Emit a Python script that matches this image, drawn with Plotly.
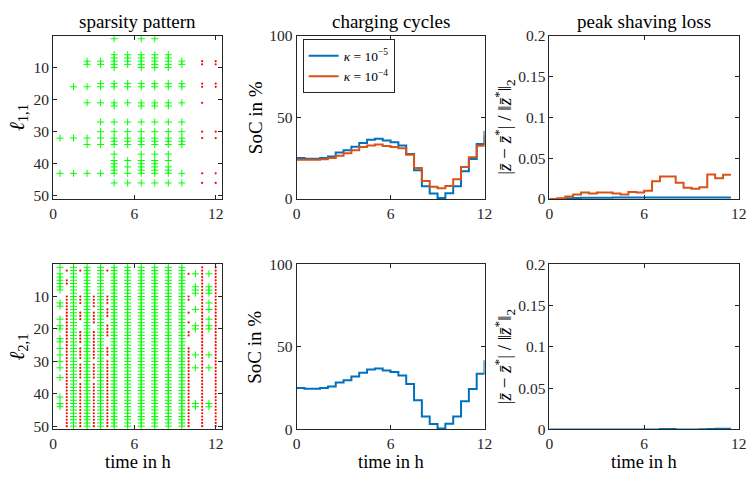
import plotly.graph_objects as go

# ---------------- data ----------------
# sparsity pattern l_{1,1}: time column (h) -> rows holding entries ([a, b] = dense run a..b)
sp1_green_t = [0.5, 1.5, 2.5, 3.5, 4.5, 5.5, 6.5, 7.5, 8.5, 9.5]
sp1_green_rows = [
    [32, 43],
    [16, 32, 43],
    [8, 9, 16, 21, 32, 34, 43],
    [8, 9, 15, 16, 21, 27, 30, 32, 34, 43],
    [1, [6, 10], 15, 16, 21, 22, 27, 30, [32, 34], 37, [39, 43], 46],
    [[6, 9], 15, 16, 21, 27, 30, [32, 34], 39, 41, 43, 46],
    [1, [6, 10], 15, 16, 21, 22, 27, 30, [32, 34], 37, [39, 43], 46],
    [1, [6, 10], 15, 16, 21, 22, 27, 30, [32, 34], 37, [39, 43], 46],
    [[6, 10], 15, 16, 21, 22, 27, 30, [32, 34], 37, 39, [41, 43], 46],
    [8, 9, 15, 16, 21, 27, 30, [32, 34], 43, 46],
]
sp1_red_t = [11, 12]
sp1_red_rows = [
    [8, 9, 15, 16, 21, 30, 32, 43, 46],
    [8, 9, 15, 16, 30, 32, 43, 46],
]

# sparsity pattern l_{2,1}
sp2_green_t = [0.5, 1.5, 2.5, 3.5, 4.5, 5.5, 6.5, 7.5, 8.5, 9.5, 10.5, 11.5]
sp2_green_rows = [
    [1, [3, 8], 12, 13, 17, 19, 20, 23, 24, 26, 28, 30, 32, 35, 41, 43, 44],
    [[1, 50]], [[1, 50]], [[1, 50]], [[1, 50]], [[1, 50]],
    [[1, 50]], [[1, 50]], [[1, 50]], [[1, 50]],
    [3, [7, 9], 14, 19, 20, 28, 32, 43, 44],
    [3, [7, 9], 12, 14, 17, 19, 20, 28, 32, 43, 44],
]
sp2_red_t = [1, 2, 3, 4, 10, 11, 12]
sp2_red_rows = [
    [2, 5, 6, [10, 50]],
    [2, [10, 12], [15, 17], [21, 24], [26, 29], [31, 35], [37, 50]],
    [[10, 13], [15, 18], [21, 29], [31, 35], [37, 50]],
    [2, [10, 12], [14, 16], [19, 22], [26, 28], [30, 50]],
    [3, 10, 11, 15, 18, 21, 22, [26, 50]],
    [[1, 50]],
    [[1, 50]],
]

# charging cycles (SoC in %)
soc_t = [0, 0.5, 1, 1.5, 2, 2.5, 3, 3.5, 4, 4.5, 5, 5.5, 6, 6.5, 7, 7.5, 8,
         8.5, 9, 9.5, 10, 10.5, 11, 11.5, 12]
soc_k5 = [25, 24.6, 24.6, 25, 26, 28.4, 29.8, 32, 34.3, 36.3, 36.9, 35.7, 34.7,
          32.7, 27.5, 17.6, 7.8, 3.3, 0.6, 3.5, 7.8, 17, 24.5, 33.7, 41.8]
soc_k4 = [24, 24, 24, 24.3, 25, 26.5, 28, 29.8, 31.8, 32.7, 33.3, 32.4, 31.8,
          31, 27, 19, 11, 7.5, 6.5, 8, 12, 19.5, 25.5, 32.5, 39]

# peak shaving loss
loss_t = [0, 0.5, 1, 1.5, 2, 2.5, 3, 3.5, 4, 4.5, 5, 5.5, 6, 6.5, 7, 7.5, 8,
          8.5, 9, 9.5, 10, 10.5, 11, 11.5]
loss1_k5 = [0, 0.0003, 0.0008, 0.0012, 0.0015, 0.0016, 0.0016, 0.0016, 0.0017,
            0.0017, 0.0017, 0.0017, 0.0018, 0.0018, 0.0018, 0.0018, 0.0018,
            0.0018, 0.0019, 0.0019, 0.0019, 0.0019, 0.0019, 0.0019]
loss1_k4 = [0, 0.0008, 0.003, 0.0055, 0.008, 0.0067, 0.008, 0.008, 0.0067,
            0.0055, 0.0086, 0.008, 0.010, 0.0216, 0.0275, 0.0275, 0.020,
            0.0138, 0.0126, 0.0145, 0.030, 0.0255, 0.0295, 0.0295]
loss2_k5 = [0, 0, 0, 0, 0, 0, 0, 0, 0, 0, 0, 0, 0, 0, 0.0005, 0.0005, 0.0001,
            0.0001, 0.0001, 0.0002, 0.0007, 0.0008, 0.0008, 0.0008]

# ---------------- styling ----------------
BLUE = "#0072BD"
ORANGE = "#D95319"
GREEN = "#00FF00"
RED = "#FF0000"
AX = "#262626"
FONT = "Liberation Serif, Times New Roman, serif"
W, H = 754, 477
TICK_SIZE = 15.5
LABEL_SIZE = 19


def expand(t_list, rows_list):
    xs, ys = [], []
    for t, rows in zip(t_list, rows_list):
        for r in rows:
            if isinstance(r, list):
                rr = range(r[0], r[1] + 1)
            else:
                rr = [r]
            for v in rr:
                xs.append(t)
                ys.append(v)
    return xs, ys


fig = go.Figure()


def spy(t_g, r_g, t_r, r_r, xa, ya):
    xg, yg = expand(t_g, r_g)
    xr, yr = expand(t_r, r_r)
    fig.add_trace(go.Scatter(x=xr, y=yr, mode="markers", xaxis=xa, yaxis=ya,
                             marker=dict(symbol="circle", size=2.2, color=RED,
                                         line=dict(width=0)),
                             showlegend=False, hoverinfo="skip"))
    fig.add_trace(go.Scatter(x=xg, y=yg, mode="markers", xaxis=xa, yaxis=ya,
                             marker=dict(symbol="cross-thin", size=5,
                                         line=dict(width=1, color=GREEN)),
                             showlegend=False, hoverinfo="skip"))


spy(sp1_green_t, sp1_green_rows, sp1_red_t, sp1_red_rows, "x", "y")
spy(sp2_green_t, sp2_green_rows, sp2_red_t, sp2_red_rows, "x4", "y4")

k5 = "<i>κ</i> = 10<sup>−5</sup>"
k4 = "<i>κ</i> = 10<sup>−4</sup>"
fig.add_trace(go.Scatter(x=soc_t, y=soc_k5, mode="lines", line_shape="hv",
                         line=dict(color=BLUE, width=2), name=k5,
                         xaxis="x2", yaxis="y2"))
fig.add_trace(go.Scatter(x=soc_t, y=soc_k4, mode="lines", line_shape="hv",
                         line=dict(color=ORANGE, width=2), name=k4,
                         xaxis="x2", yaxis="y2"))
fig.add_trace(go.Scatter(x=soc_t, y=soc_k5, mode="lines", line_shape="hv",
                         line=dict(color=BLUE, width=2), showlegend=False,
                         xaxis="x5", yaxis="y5"))
fig.add_trace(go.Scatter(x=loss_t, y=loss1_k5, mode="lines", line_shape="hv",
                         line=dict(color=BLUE, width=2), showlegend=False,
                         xaxis="x3", yaxis="y3"))
fig.add_trace(go.Scatter(x=loss_t, y=loss1_k4, mode="lines", line_shape="hv",
                         line=dict(color=ORANGE, width=2), showlegend=False,
                         xaxis="x3", yaxis="y3"))
fig.add_trace(go.Scatter(x=loss_t, y=loss2_k5, mode="lines", line_shape="hv",
                         line=dict(color=BLUE, width=2), showlegend=False,
                         xaxis="x6", yaxis="y6"))

# pixel domains
colx = [(50, 222), (297.3, 488.3), (554.3, 746.7)]
rowy = [(27.5, 197), (264.5, 436)]


def xd(c):
    return [colx[c][0] / W, colx[c][1] / W]


def yd(r):
    return [1 - rowy[r][1] / H, 1 - rowy[r][0] / H]


base = dict(showline=True, linecolor=AX, linewidth=1, mirror="ticks",
            ticks="inside", ticklen=4, tickcolor=AX, tickwidth=1,
            showgrid=False, zeroline=False,
            tickfont=dict(family=FONT, size=TICK_SIZE, color=AX))

layout = dict(width=W, height=H, margin=dict(l=0, r=0, t=0, b=0),
              paper_bgcolor="white", plot_bgcolor="white",
              font=dict(family=FONT, color="black"))

idx = 0
for r in range(2):
    for c in range(3):
        idx += 1
        xn = "xaxis" if idx == 1 else f"xaxis{idx}"
        yn = "yaxis" if idx == 1 else f"yaxis{idx}"
        ya_id = "y" if idx == 1 else f"y{idx}"
        xa_id = "x" if idx == 1 else f"x{idx}"
        xax = dict(base, domain=xd(c), anchor=ya_id,
                   tickvals=[0, 6, 12], ticktext=["0", "6", "12"])
        yax = dict(base, domain=yd(r), anchor=xa_id)
        if c == 0:
            xax["range"] = [0, 12.5]
            yax["range"] = [51, 0]
            yax["tickvals"] = [10, 20, 30, 40, 50]
        elif c == 1:
            xax["range"] = [0, 12]
            yax["range"] = [0, 100]
            yax["tickvals"] = [0, 50, 100]
        else:
            xax["range"] = [0, 12]
            yax["range"] = [0, 0.2]
            yax["tickvals"] = [0, 0.05, 0.1, 0.15, 0.2]
            yax["ticktext"] = ["0", "0.05", "0.1", "0.15", "0.2"]
        layout[xn] = xax
        layout[yn] = yax

layout["legend"] = dict(x=303.5 / W, y=1 - 31.5 / H, xanchor="left",
                        yanchor="top", bordercolor=AX, borderwidth=1,
                        bgcolor="white", font=dict(family=FONT, size=13.5),
                        itemwidth=30, tracegroupgap=0)

ann = []


def txt(x, y, s, size=LABEL_SIZE, angle=0, yanchor="middle"):
    ann.append(dict(x=x / W, y=1 - y / H, xref="paper", yref="paper",
                    text=s, showarrow=False, textangle=angle,
                    font=dict(family=FONT, size=size, color="black"),
                    xanchor="center", yanchor=yanchor))


titles = ["sparsity pattern", "charging cycles", "peak shaving loss"]
for c in range(3):
    txt((colx[c][0] + colx[c][1]) / 2, 13, titles[c])
    txt((colx[c][0] + colx[c][1]) / 2, 482, "time in h", size=18.5,
        yanchor="bottom")

loss_lbl = ("|<i>z̄</i> − <i>z̄</i><sup>*</sup>| / "
            "‖<i>z̄</i><sup>*</sup>‖<sub>2</sub>")
for r in range(2):
    yc = (rowy[r][0] + rowy[r][1]) / 2
    txt(14, yc, f"<i>ℓ</i><sub>{r + 1},1</sub>", size=21, angle=-90)
    txt(255, yc, "SoC in %", angle=-90)
    txt(509, yc + 10, loss_lbl, angle=-90)

layout["annotations"] = ann
fig.update_layout(**layout)
fig.write_html("out.html", config={"displayModeBar": False},
               post_script="document.body.style.margin='0';"
                           "document.body.style.padding='0';")
